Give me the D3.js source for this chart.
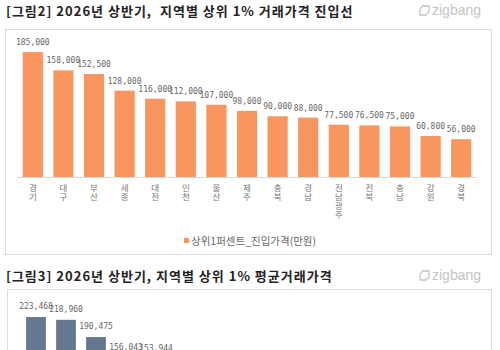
<!DOCTYPE html>
<html>
<head>
<meta charset="utf-8">
<script src="https://cdn.jsdelivr.net/npm/d3@7"></script>
<style>
  html, body { margin: 0; padding: 0; background: #fff; }
  svg { display: block; }
</style>
</head>
<body>
<svg id="chart" width="500" height="350"></svg>
<script>
// Figure 2: top 1% entry price by region (만원)
const regions = ["경기","대구","부산","세종","대전","인천","울산","제주","충북","경남","전남광주","전북","충남","강원","경북"];
const entryPrice = [185000,158000,152500,128000,116000,112000,107000,98000,90000,88000,77500,76500,75000,60800,56000];

// Figure 3: top 1% average price (only first bars visible)
const avgPrice = [223468,218960,190475,156043,153944];

const title2 = "[그림2] 2026년 상반기,  지역별 상위 1% 거래가격 진입선";
const title3 = "[그림3] 2026년 상반기, 지역별 상위 1% 평균거래가격";
const legendLabel = "상위1퍼센트_진입가격(만원)";

const fmt = d3.format(",");
const svg = d3.select("#chart");
const KR = "'Noto Sans CJK KR', 'Noto Sans', sans-serif";
const MONO = "'DejaVu Sans Mono', monospace";

// --- header (title + logo)
function header(y, text) {
  svg.append("text")
    .attr("x", 6).attr("y", y + 5)
    .attr("font-family", KR).attr("font-weight", 700)
    .attr("font-size", 13).attr("letter-spacing", 1)
    .attr("fill", "#222")
    .style("white-space", "pre")
    .text(text);

  const logo = svg.append("g").attr("transform", `translate(418,${y})`);
  logo.append("path")
    .attr("d", "M2,-2 L5,-5 L11,-5 L11,1 L8,4 L2,4 Z")
    .attr("fill", "none").attr("stroke", "#c4c4c4").attr("stroke-width", 1.3);
  logo.append("text")
    .attr("x", 14).attr("y", 4)
    .attr("font-family", "'Liberation Sans', Arial, sans-serif")
    .attr("font-size", 14).attr("fill", "#c4c4c4")
    .text("zigbang");
}

function box(x, y, w, h) {
  svg.append("rect")
    .attr("x", x + 0.5).attr("y", y + 0.5).attr("width", w).attr("height", h)
    .attr("fill", "#fff").attr("stroke", "#dcdcdc");
}

// ===== Figure 2 =====
header(11, title2);
box(5, 29, 486, 225);

const x2 = d3.scaleBand().domain(regions).range([17.5, 476.5]).paddingInner(0.34).paddingOuter(0.17);
const y2 = d3.scaleLinear().domain([0, 200000]).range([177, 42]);

const g2 = svg.append("g");
g2.selectAll("rect.bar")
  .data(entryPrice)
  .join("rect")
    .attr("class", "bar")
    .attr("x", (d, i) => x2(regions[i]))
    .attr("y", d => y2(d))
    .attr("width", x2.bandwidth())
    .attr("height", d => y2(0) - y2(d))
    .attr("fill", "#f9955e");

g2.selectAll("text.val")
  .data(entryPrice)
  .join("text")
    .attr("class", "val")
    .attr("x", (d, i) => x2(regions[i]) + x2.bandwidth() / 2)
    .attr("y", d => y2(d) - 7)
    .attr("text-anchor", "middle")
    .attr("font-family", MONO).attr("font-size", 8).attr("fill", "#666")
    .text(d => fmt(d));

const ax2 = g2.append("g")
  .attr("transform", `translate(0,${y2(0)})`)
  .call(d3.axisBottom(x2).tickSize(0).tickFormat(""));
ax2.select(".domain").attr("stroke", "#d9d9d9");
ax2.selectAll(".tick text").remove();
// stacked (one char per line) category labels
ax2.selectAll(".tick").each(function(d) {
  const t = d3.select(this);
  Array.from(d).forEach((ch, k) => {
    t.append("text")
      .attr("x", 0).attr("y", 14 + k * 9)
      .attr("fill", "#777").attr("font-family", KR).attr("font-size", 8.5)
      .attr("text-anchor", "middle")
      .text(ch);
  });
});

// legend
const lg = svg.append("g").attr("transform", "translate(184,241)");
lg.append("rect").attr("x", 0).attr("y", -3).attr("width", 5).attr("height", 5).attr("fill", "#f9955e");
lg.append("text").attr("x", 7).attr("y", 3.5)
  .attr("font-family", KR).attr("font-size", 10.5).attr("fill", "#666")
  .text(legendLabel);

// ===== Figure 3 =====
header(276, title3);
box(7, 289, 484, 200);

const slots = d3.range(15);
const x3 = d3.scaleBand().domain(slots).range([21, 471]).paddingInner(0.34).paddingOuter(0.17);
const y3 = d3.scaleLinear().domain([0, 250000]).range([452.5, 301]);

const g3 = svg.append("g");
g3.selectAll("rect.bar")
  .data(avgPrice)
  .join("rect")
    .attr("class", "bar")
    .attr("x", (d, i) => x3(i))
    .attr("y", d => y3(d))
    .attr("width", x3.bandwidth())
    .attr("height", d => y3(0) - y3(d))
    .attr("fill", "#66788f");

g3.selectAll("text.val")
  .data(avgPrice)
  .join("text")
    .attr("class", "val")
    .attr("x", (d, i) => x3(i) + x3.bandwidth() / 2)
    .attr("y", d => y3(d) - 8)
    .attr("text-anchor", "middle")
    .attr("font-family", MONO).attr("font-size", 8).attr("fill", "#666")
    .text(d => fmt(d));
</script>
</body>
</html>
